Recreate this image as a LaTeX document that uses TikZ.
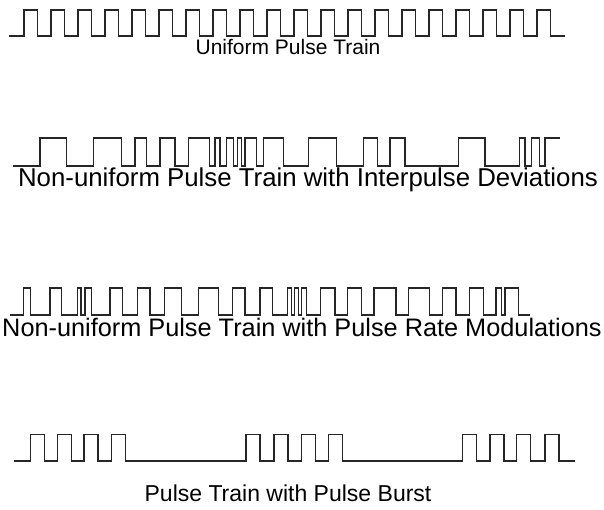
\documentclass[tikz,border=0pt]{standalone}
\usepackage{fontspec}
\setmainfont{Liberation Sans}
\begin{document}
\begin{tikzpicture}[x=1pt,y=-1pt,
  pulse/.style={line width=1.4pt,draw=black!85,line join=miter},
  lbl/.style={inner sep=0pt,text=black}]
\useasboundingbox (0,0) rectangle (604,510);
% Row 1: uniform
\draw[pulse] (9,36) \foreach \r in {24,51,...,537}{ -- (\r,36) -- (\r,10) -- (\r+13.5,10) -- (\r+13.5,36)} -- (565,36);
\node[lbl,font=\fontsize{21}{25}\selectfont,anchor=base] (l1) at (288,55) {Uniform Pulse Train};
% Row 2: interpulse deviations
\draw[pulse] (13,166) \foreach \r/\f in {40/66.7,93.3/121.5,135/146.7,160/175,188.3/209.3,215/220,226.7/233.3,237.3/241.7,245/256.7,263.3/283.3,308.3/336.7,363.3/377.3,390/405,458.3/485,519.3/525,531.7/539.3}{ -- (\r,166) -- (\r,138) -- (\f,138) -- (\f,166)} -- (545,166) -- (545,138) -- (560,138);
\node[lbl,font=\fontsize{25.8}{30}\selectfont,anchor=base] (l2) at (308,187) {Non-uniform Pulse Train with Interpulse Deviations};
% Row 3: pulse rate modulations
\draw[pulse] (10,315) \foreach \r/\f in {23.3/30.7,50/61.7,77.3/81,85/91.7,110/122.7,137.3/150,164.3/181.7,198.3/218.3,232.7/245,260/272.7,287.3/291.7,294.5/298.3,301.7/306.7,320.7/335,347.3/361.7,374/396,408.3/429.3,442.7/456,469.3/483.3,496/501.7,505/518.3}{ -- (\r,315) -- (\r,288) -- (\f,288) -- (\f,315)} -- (530,315);
\node[lbl,font=\fontsize{25.3}{30}\selectfont,anchor=base] (l3) at (302,336) {Non-uniform Pulse Train with Pulse Rate Modulations};
% Row 4: pulse burst
\draw[pulse] (14,461) \foreach \r in {30.7,57.3,84,111.7,246,274,301.7,328.3,462.7,490,516.7,545}{ -- (\r,461) -- (\r,434.5) -- (\r+14,434.5) -- (\r+14,461)} -- (575,461);
\node[lbl,font=\fontsize{23}{28}\selectfont,anchor=base] (l4) at (288,501) {Pulse Train with Pulse Burst};
\end{tikzpicture}
\end{document}
